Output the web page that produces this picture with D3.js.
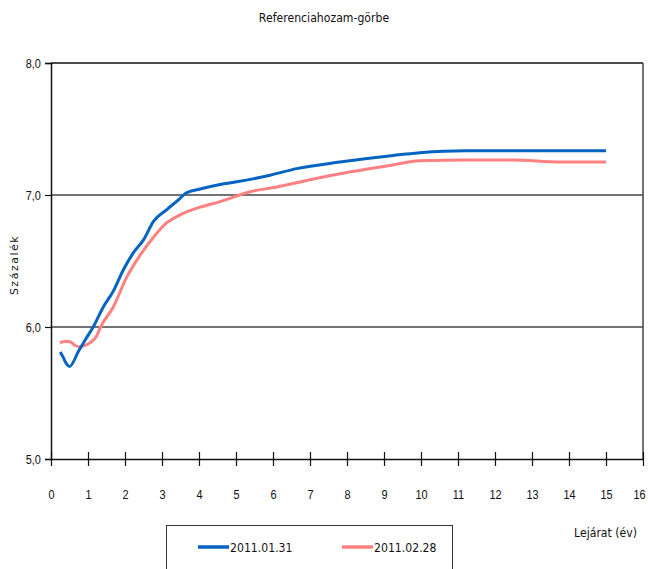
<!DOCTYPE html>
<html>
<head>
<meta charset="utf-8">
<script src="https://cdn.jsdelivr.net/npm/d3@7"></script>
<style>
  body { margin: 0; background: #fff; }
  svg { display: block; font-family: "DejaVu Sans", sans-serif; }
</style>
</head>
<body>
<div id="chart"></div>
<script>
// Maturity (years) and yield (%) for each date
const maturities = [0.25, 0.33, 0.42, 0.5, 0.75, 0.92, 1.14, 1.41, 1.68, 1.95, 2.22, 2.5, 2.77, 3.13, 3.49, 3.62, 4.03, 4.57, 5.02, 5.92, 6.64, 7.81, 9.25, 9.97, 11.2, 12.5, 13.75, 15];
const jan31 = [5.81, 5.77, 5.72, 5.70, 5.82, 5.90, 6.00, 6.15, 6.27, 6.43, 6.56, 6.66, 6.80, 6.89, 6.975, 7.01, 7.045, 7.08, 7.10, 7.15, 7.20, 7.25, 7.30, 7.32, 7.335, 7.335, 7.335, 7.335];

const maturitiesFeb = [0.24, 0.38, 0.5, 0.65, 0.78, 0.92, 1.05, 1.23, 1.34, 1.68, 2.05, 2.41, 2.77, 3.13, 3.49, 3.94, 4.57, 5.38, 6.1, 6.91, 7.99, 9.07, 9.97, 11.2, 12.5, 13.75, 15];
const feb28 = [5.88, 5.89, 5.89, 5.86, 5.85, 5.86, 5.88, 5.93, 6.00, 6.15, 6.38, 6.545, 6.68, 6.79, 6.85, 6.90, 6.95, 7.025, 7.06, 7.11, 7.17, 7.22, 7.26, 7.265, 7.265, 7.25, 7.25];

const seriesNames = ["2011.01.31", "2011.02.28"];
const seriesColors = ["#0563C1", "#FF8080"];
const xTicks = d3.range(0, 17);
const yTicks = [5, 6, 7, 8];

const width = 648, height = 569;
const margin = { top: 63, right: 5, bottom: 110, left: 51 };
const squeeze = 0.84; // narrow look of the original font

const svg = d3.select("#chart").append("svg")
    .attr("width", width)
    .attr("height", height);

const x = d3.scaleLinear().domain([0, 16]).range([margin.left, width - margin.right]);
const y = d3.scaleLinear().domain([5, 8]).range([height - margin.bottom, margin.top]);

// text placed at (tx, ty), squeezed horizontally
function label(parent, tx, ty, str, anchor) {
    return parent.append("text")
        .attr("transform", `translate(${tx},${ty}) scale(${squeeze},1)`)
        .attr("text-anchor", anchor || "start")
        .style("font-size", "13px")
        .attr("fill", "#111")
        .text(str);
}

// Title
label(svg, 324, 22, "Referenciahozam-görbe", "middle");

// Gridlines
svg.append("g")
    .selectAll("line")
    .data(yTicks.filter(d => d > 5))
    .join("line")
    .attr("x1", x(0)).attr("x2", x(16))
    .attr("y1", d => y(d)).attr("y2", d => y(d))
    .attr("stroke", d => d === 8 ? "#111" : "#444")
    .attr("stroke-width", 1.5);

// Right border
svg.append("line")
    .attr("x1", x(16)).attr("x2", x(16))
    .attr("y1", y(8)).attr("y2", y(5))
    .attr("stroke", "#444").attr("stroke-width", 1.5);

// Y axis
const yAxis = svg.append("g")
    .attr("transform", `translate(${x(0)},0)`)
    .call(d3.axisLeft(y).tickValues(yTicks).tickSize(6).tickPadding(6)
        .tickFormat(d => d3.format(".1f")(d).replace(".", ",")));
yAxis.select(".domain").attr("stroke", "#111").attr("stroke-width", 1.5);
yAxis.selectAll(".tick line").attr("stroke", "#111").attr("stroke-width", 1.2);
yAxis.selectAll("text")
    .style("font-size", "13px").attr("fill", "#111").attr("font-family", null)
    .attr("transform", `scale(${squeeze},1)`);

// X axis (ticks cross the axis line)
const xAxis = svg.append("g")
    .attr("transform", `translate(0,${y(5)})`)
    .call(d3.axisBottom(x).tickValues(xTicks).tickSize(7).tickPadding(24).tickSizeOuter(0));
xAxis.select(".domain").attr("stroke", "#111").attr("stroke-width", 1.5);
xAxis.selectAll(".tick line").attr("y1", -7).attr("stroke", "#111").attr("stroke-width", 1.2);
xAxis.selectAll("text")
    .style("font-size", "13px").attr("fill", "#111").attr("font-family", null)
    .attr("transform", d => d === 16 ? `translate(-4,0) scale(${squeeze},1)` : `scale(${squeeze},1)`);

// Axis titles
svg.append("text")
    .attr("transform", `translate(18,265) rotate(-90)`)
    .attr("text-anchor", "middle")
    .style("letter-spacing", "1.5px")
    .style("font-size", "11px")
    .attr("fill", "#111")
    .text("Százalék");

label(svg, 637, 537, "Lejárat (év)", "end");

// Lines
const line = d3.line()
    .x(d => x(d[0]))
    .y(d => y(d[1]))
    .curve(d3.curveMonotoneX);

const data = [
    d3.zip(maturities, jan31),
    d3.zip(maturitiesFeb, feb28)
];

svg.append("g")
    .selectAll("path")
    .data([data[1], data[0]])
    .join("path")
    .attr("d", line)
    .attr("fill", "none")
    .attr("stroke", (d, i) => i === 0 ? seriesColors[1] : seriesColors[0])
    .attr("stroke-width", 3)
    .attr("stroke-linejoin", "round");

// Legend
svg.append("rect")
    .attr("x", 166.5).attr("y", 525.5)
    .attr("width", 286).attr("height", 60)
    .attr("fill", "none")
    .attr("stroke", "#333").attr("stroke-width", 1);

const legendX = [198, 342];
seriesNames.forEach((name, i) => {
    svg.append("line")
        .attr("x1", legendX[i]).attr("x2", legendX[i] + 31)
        .attr("y1", 547).attr("y2", 547)
        .attr("stroke", seriesColors[i])
        .attr("stroke-width", 3.5);
    label(svg, legendX[i] + 32, 551.5, name);
});
</script>
</body>
</html>
